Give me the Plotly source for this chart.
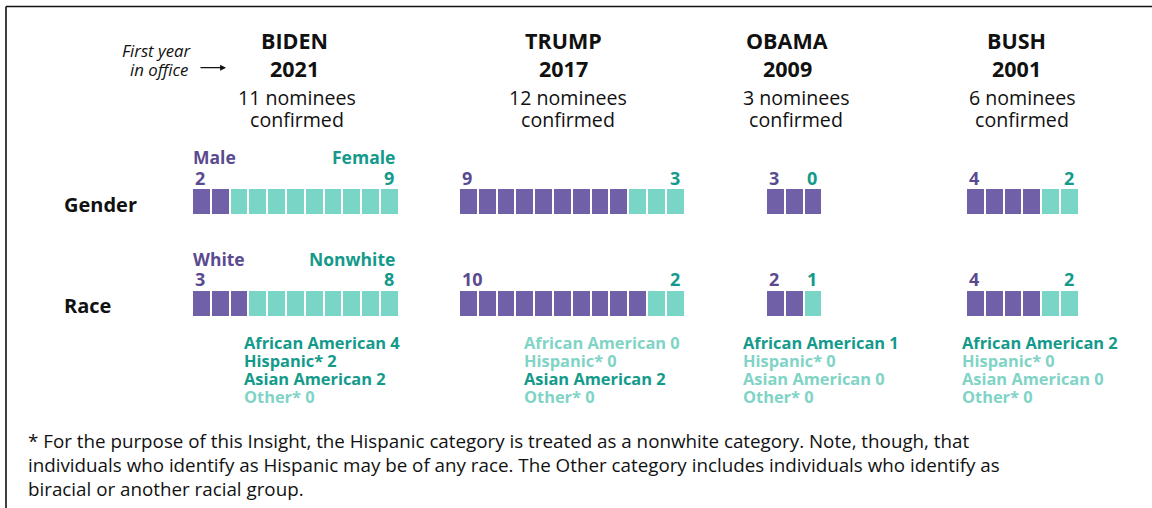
import plotly.graph_objects as go

# ---------------- data ----------------
presidents = ["BIDEN", "TRUMP", "OBAMA", "BUSH"]
years = ["2021", "2017", "2009", "2001"]
confirmed = [11, 12, 3, 6]
male = [2, 9, 3, 4]
female = [9, 3, 0, 2]
white = [3, 10, 2, 4]
nonwhite = [8, 2, 1, 2]
race_categories = ["African American", "Hispanic*", "Asian American", "Other*"]
african_american = [4, 0, 1, 2]
hispanic = [2, 0, 0, 0]
asian_american = [2, 2, 0, 0]
other = [0, 0, 0, 0]
footnote_lines = [
    "* For the purpose of this Insight, the Hispanic category is treated as a nonwhite category. Note, though, that",
    "individuals who identify as Hispanic may be of any race. The Other category includes individuals who identify as",
    "biracial or another racial group.",
]

# ---------------- layout constants ----------------
W, H = 1152, 508
FONT = "Open Sans"
PURPLE = "#7060A8"
TEAL = "#79D5C5"
PURPLE_TXT = "#5A4A90"
TEAL_DARK = "#139A8B"
TEAL_LIGHT = "#7FD4C6"
group_x0 = [192, 459, 766, 966]
name_x = [294, 563, 787, 1016]
sub_x = [297, 568, 796, 1022]
pitch = 18.8
bar_h = 27
gender_y = 201.5
race_y = 303.2

fig = go.Figure()

rows = [(gender_y, male, female), (race_y, white, nonwhite)]
for color, which in ((PURPLE, 0), (TEAL, 1)):
    bases, ys = [], []
    for yc, a, b in rows:
        for g in range(len(presidents)):
            n_a, n_b = a[g], b[g]
            rng = range(0, n_a) if which == 0 else range(n_a, n_a + n_b)
            for i in rng:
                bases.append(group_x0[g] + i * pitch)
                ys.append(yc)
    fig.add_trace(go.Bar(
        orientation="h", x=[pitch] * len(bases), base=bases, y=ys,
        width=bar_h, marker=dict(color=color, line=dict(color="white", width=2)),
        hoverinfo="skip", showlegend=False,
    ))

ann = []

def txt(x, y, s, size, color="#111111", bold=False, italic=False, anchor="center"):
    if bold:
        s = "<b>" + s + "</b>"
    if italic:
        s = "<i>" + s + "</i>"
    ann.append(dict(x=x, y=y, xref="x", yref="y", text=s, showarrow=False,
                    xanchor=anchor, yanchor="middle", borderpad=0,
                    font=dict(family=FONT, size=size, color=color)))

# headers
for g in range(len(presidents)):
    txt(name_x[g], 40, presidents[g], 21.5, bold=True)
    txt(name_x[g], 68, years[g], 21.5, bold=True)
    txt(sub_x[g], 97, f"{confirmed[g]} nominees", 19.6)
    txt(sub_x[g], 119, "confirmed", 19.6)

txt(193, 50, "First year", 16.8, italic=True, anchor="right")
txt(189, 69.5, "in office", 16.8, italic=True, anchor="right")
ann.append(dict(x=226, y=67.7, ax=199, ay=67.7, xref="x", yref="y", axref="x", ayref="y",
                text="", showarrow=True, arrowhead=2, arrowsize=0.9, arrowwidth=1.3,
                arrowcolor="#111111"))

# row labels
txt(63, 204, "Gender", 20, bold=True, anchor="left")
txt(63, 305.5, "Race", 20, bold=True, anchor="left")

# category labels (first group only)
txt(group_x0[0], 157, "Male", 17.5, PURPLE_TXT, bold=True, anchor="left")
txt(396, 157, "Female", 17.5, TEAL_DARK, bold=True, anchor="right")
txt(group_x0[0], 258.5, "White", 17.5, PURPLE_TXT, bold=True, anchor="left")
txt(396, 258.5, "Nonwhite", 17.5, TEAL_DARK, bold=True, anchor="right")

# counts
for g in range(len(presidents)):
    x0 = group_x0[g]
    x1 = group_x0[g] + confirmed[g] * pitch
    txt(x0 + 2, 177.5, str(male[g]), 18, PURPLE_TXT, bold=True, anchor="left")
    txt(x1 - 4, 177.5, str(female[g]), 18, TEAL_DARK, bold=True, anchor="right")
    txt(x0 + 2, 279, str(white[g]), 18, PURPLE_TXT, bold=True, anchor="left")
    txt(x1 - 4, 279, str(nonwhite[g]), 18, TEAL_DARK, bold=True, anchor="right")

# race breakdown lists
list_x = [243, 523, 742, 961]
list_y = [342, 360.3, 378.6, 396.9]
breakdown = [african_american, hispanic, asian_american, other]
for g in range(len(presidents)):
    for k, cat in enumerate(race_categories):
        v = breakdown[k][g]
        txt(list_x[g], list_y[k], f"{cat} {v}", 16.4,
            TEAL_DARK if v > 0 else TEAL_LIGHT, bold=True, anchor="left")

# footnote
for k, line in enumerate(footnote_lines):
    txt(27, 441 + k * 23.8, line, 18.8, "#111111", anchor="left")

fig.update_layout(
    width=W, height=H, margin=dict(l=0, r=0, t=0, b=0),
    paper_bgcolor="white", plot_bgcolor="white",
    barmode="overlay", bargap=0,
    xaxis=dict(range=[0, W], visible=False, fixedrange=True),
    yaxis=dict(range=[H, 0], visible=False, fixedrange=True),
    annotations=ann,
    shapes=[
        dict(type="line", xref="x", yref="y", x0=6, y0=H, x1=6, y1=6.5,
             line=dict(color="#111111", width=1.6)),
        dict(type="line", xref="x", yref="y", x0=6, y0=6.5, x1=W, y1=6.5,
             line=dict(color="#111111", width=1.6)),
    ],
)

fig.write_html("out.html", config={"displayModeBar": False},
               post_script="document.body.style.margin='0';document.body.style.overflow='hidden';")
